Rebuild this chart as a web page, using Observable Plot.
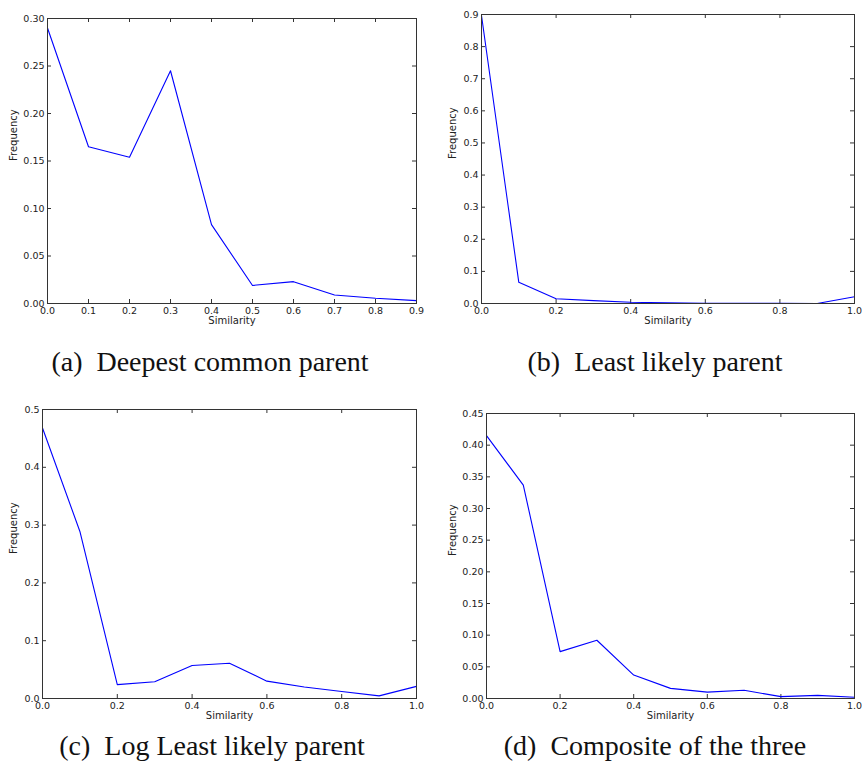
<!DOCTYPE html>
<html>
<head>
<meta charset="utf-8">
<script src="https://cdn.jsdelivr.net/npm/d3@7"></script>
<script src="https://cdn.jsdelivr.net/npm/@observablehq/plot@0.6"></script>
<style>
  html, body { margin: 0; padding: 0; background: #fff; }
  #wrap { position: relative; width: 862px; height: 770px; background: #fff; overflow: hidden; }
  .panel { position: absolute; }
  .caption { position: absolute; font-family: "Liberation Serif", serif; font-size: 28px; line-height: normal; color: #111; text-align: center; white-space: nowrap; }
</style>
</head>
<body>
<div id="wrap"></div>
<script>
// ---- data ----
const similarityA = [0.0, 0.1, 0.2, 0.3, 0.4, 0.5, 0.6, 0.7, 0.8, 0.9];
const frequencyA  = [0.290, 0.165, 0.154, 0.245, 0.083, 0.019, 0.023, 0.009, 0.0055, 0.003];

const similarityB = [0.0, 0.1, 0.2, 0.3, 0.4, 0.5, 0.6, 0.7, 0.8, 0.9, 1.0];
const frequencyB  = [0.897, 0.066, 0.015, 0.009, 0.004, 0.002, 0.001, 0.0006, 0.0003, 0.0, 0.021];

const similarityC = [0.0, 0.1, 0.2, 0.3, 0.4, 0.5, 0.6, 0.7, 0.8, 0.9, 1.0];
const frequencyC  = [0.468, 0.289, 0.024, 0.029, 0.057, 0.061, 0.030, 0.020, 0.012, 0.0045, 0.021];

const similarityD = [0.0, 0.1, 0.2, 0.3, 0.4, 0.5, 0.6, 0.7, 0.8, 0.9, 1.0];
const frequencyD  = [0.415, 0.337, 0.074, 0.092, 0.037, 0.016, 0.010, 0.013, 0.003, 0.005, 0.002];

// tick values
const xTicksA = [0.0, 0.1, 0.2, 0.3, 0.4, 0.5, 0.6, 0.7, 0.8, 0.9];
const yTicksA = [0.00, 0.05, 0.10, 0.15, 0.20, 0.25, 0.30];
const xTicksB = [0.0, 0.2, 0.4, 0.6, 0.8, 1.0];
const yTicksB = [0.0, 0.1, 0.2, 0.3, 0.4, 0.5, 0.6, 0.7, 0.8, 0.9];
const xTicksC = [0.0, 0.2, 0.4, 0.6, 0.8, 1.0];
const yTicksC = [0.0, 0.1, 0.2, 0.3, 0.4, 0.5];
const xTicksD = [0.0, 0.2, 0.4, 0.6, 0.8, 1.0];
const yTicksD = [0.00, 0.05, 0.10, 0.15, 0.20, 0.25, 0.30, 0.35, 0.40, 0.45];

// captions and labels
const captions = ["(a)\u2002Deepest common parent", "(b)\u2002Least likely parent",
                  "(c)\u2002Log Least likely parent", "(d)\u2002Composite of the three"];
const xLabel = "Similarity";
const yLabel = "Frequency";

const wrap = document.getElementById("wrap");

function panel(cfg) {
  const {left, top, width, height, ml, mr, mt, mb, xs, ys, xDomain, yDomain, xTicks, yTicks, xDigits, yDigits, yLabelDx} = cfg;
  const innerW = width - ml - mr;
  const innerH = height - mt - mb;
  const data = xs.map((x, i) => ({x, y: ys[i]}));
  const axisColor = "#333";
  const chart = Plot.plot({
    width, height,
    marginLeft: ml, marginRight: mr, marginTop: mt, marginBottom: mb,
    x: {domain: xDomain},
    y: {domain: yDomain},
    style: {fontFamily: "DejaVu Sans, sans-serif", fontSize: "9.5px", color: "#222", background: "#fff", overflow: "visible"},
    marks: [
      Plot.tickX(xTicks, {x: d => d, insetTop: innerH - 4, stroke: axisColor}),
      Plot.tickX(xTicks, {x: d => d, insetBottom: innerH - 4, stroke: axisColor}),
      Plot.tickY(yTicks, {y: d => d, insetRight: innerW - 4, stroke: axisColor}),
      Plot.tickY(yTicks, {y: d => d, insetLeft: innerW - 4, stroke: axisColor}),
      Plot.axisX({ticks: xTicks, tickSize: 0, tickPadding: 4, tickFormat: d => d.toFixed(xDigits), label: null}),
      Plot.axisY({ticks: yTicks, tickSize: 0, tickPadding: 3, tickFormat: d => d.toFixed(yDigits), label: null}),
      Plot.line(data, {x: "x", y: "y", stroke: "#0000ff", strokeWidth: 1.1}),
      Plot.frame({stroke: axisColor, strokeWidth: 1}),
      Plot.text([xLabel], {frameAnchor: "bottom", dy: 20, text: d => d, fontSize: 10}),
      Plot.text([yLabel], {frameAnchor: "left", dx: -yLabelDx, rotate: -90, text: d => d, fontSize: 10})
    ]
  });
  const div = document.createElement("div");
  div.className = "panel";
  div.style.left = left + "px";
  div.style.top = top + "px";
  div.appendChild(chart);
  wrap.appendChild(div);
}

panel({left: 0, top: 0, width: 430, height: 330, ml: 47, mr: 14, mt: 18, mb: 27,
       xs: similarityA, ys: frequencyA, xDomain: [0, 0.9], yDomain: [0, 0.30],
       xTicks: xTicksA, yTicks: yTicksA, xDigits: 1, yDigits: 2, yLabelDx: 34});
panel({left: 430, top: 0, width: 432, height: 330, ml: 51, mr: 8, mt: 14, mb: 27,
       xs: similarityB, ys: frequencyB, xDomain: [0, 1.0], yDomain: [0, 0.9],
       xTicks: xTicksB, yTicks: yTicksB, xDigits: 1, yDigits: 1, yLabelDx: 29});
panel({left: 0, top: 395, width: 430, height: 330, ml: 42, mr: 14, mt: 14, mb: 27,
       xs: similarityC, ys: frequencyC, xDomain: [0, 1.0], yDomain: [0, 0.5],
       xTicks: xTicksC, yTicks: yTicksC, xDigits: 1, yDigits: 1, yLabelDx: 29});
panel({left: 430, top: 395, width: 432, height: 330, ml: 56, mr: 8, mt: 18, mb: 27,
       xs: similarityD, ys: frequencyD, xDomain: [0, 1.0], yDomain: [0, 0.45],
       xTicks: xTicksD, yTicks: yTicksD, xDigits: 1, yDigits: 2, yLabelDx: 34});

const capPos = [
  {cx: 210, top: 346},
  {cx: 655, top: 346},
  {cx: 212, top: 730},
  {cx: 655, top: 730}
];
captions.forEach((t, i) => {
  const d = document.createElement("div");
  d.className = "caption";
  d.textContent = t;
  d.style.left = (capPos[i].cx - 200) + "px";
  d.style.width = "400px";
  d.style.top = capPos[i].top + "px";
  wrap.appendChild(d);
});
</script>
</body>
</html>
